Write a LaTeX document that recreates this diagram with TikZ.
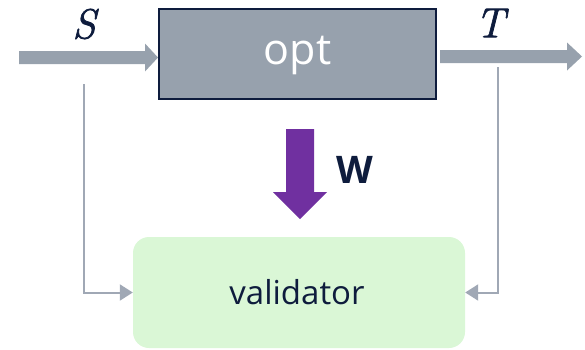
\documentclass[tikz,border=0pt]{standalone}
\usepackage{fontspec}
\setmainfont{Open Sans}
\newfontfamily\varfont[ItalicFeatures={FakeBold=1.6}]{Latin Modern Roman}
\usetikzlibrary{arrows.meta}
\definecolor{optgray}{HTML}{97A1AD}
\definecolor{navy}{HTML}{0E1C3D}
\definecolor{thingray}{HTML}{A0A8B5}
\definecolor{valgreen}{HTML}{DAF7D6}
\definecolor{wpurple}{HTML}{7030A0}
\tikzset{
  optbox/.style={draw=navy, line width=2pt, fill=optgray, minimum width=277pt, minimum height=90pt, inner sep=0pt},
  valbox/.style={fill=valgreen, rounded corners=16pt, minimum width=332pt, minimum height=111pt, inner sep=0pt},
  bigarrow/.style={fill=optgray, draw=none},
  thinlink/.style={draw=thingray, line width=2pt, -{Triangle[length=13pt,width=16pt]}},
  varlabel/.style={text=navy, inner sep=0pt, font=\varfont\itshape\fontsize{42}{42}\selectfont},
}
\begin{document}
\begin{tikzpicture}[x=1pt,y=-1pt]
\useasboundingbox (0,0) rectangle (585,349);
% main blocks
\node[optbox] (opt) at (297.5,54) {};
\node[text=white, inner sep=0pt] (optlabel) at (297.5,55) {\fontsize{43}{43}\selectfont opt};
\node[valbox] (val) at (299,292.5) {};
\node[text=navy, inner sep=0pt] (vallabel) at (297,292) {\fontsize{33}{33}\selectfont validator};
% junction points for the thin links
\coordinate (sdrop) at (84,84);
\coordinate (tdrop) at (498,67);
% wide input and output arrows
\coordinate (sin) at (19,57.5);
\coordinate (tout) at (582,56.5);
\fill[bigarrow] (sin) ++(0,-6.5) -- ++(126,0) -- ++(0,-7.5) -- (opt.west |- sin) -- ++(-13,14) -- ++(0,-7.5) -- ++(-126,0) -- cycle;
\fill[bigarrow] (opt.east |- tout) ++(3,-6.5) -- (567,50) -- (567,42.5) -- (tout) -- (567,70.5) -- (567,63) -- (440,63) -- cycle;
% weights arrow
\fill[wpurple] (286,129) -- (314,129) -- (314,192) -- (327,192) -- (300,219) -- (273,192) -- (286,192) -- cycle;
% labels
\node[varlabel] (slabel) at (84,24) {S};
\node[varlabel] (tlabel) at (490,23) {T};
\node[text=navy, inner sep=0pt] (wlabel) at (355,170) {\fontsize{38}{38}\selectfont\bfseries W};
% thin links into the validator
\draw[thinlink] (sdrop) |- (val.west);
\draw[thinlink] (tdrop) |- (val.east);
\end{tikzpicture}
\end{document}
